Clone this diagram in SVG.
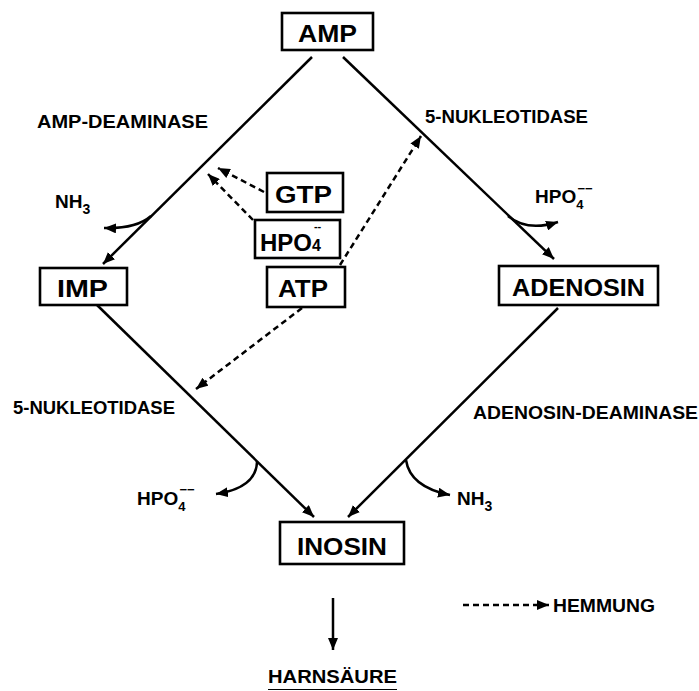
<svg xmlns="http://www.w3.org/2000/svg" width="699" height="691" viewBox="0 0 699 691">
<style>
.box{fill:#fff;stroke:#000;stroke-width:2.6}
.bt{font-family:"Liberation Sans",Arial,sans-serif;font-weight:bold;font-size:24px;fill:#000}
.lb{font-family:"Liberation Sans",Arial,sans-serif;font-weight:bold;font-size:19px;fill:#000}
.ln{fill:none;stroke:#000;stroke-width:2.5;marker-end:url(#ah)}
.ds{fill:none;stroke:#000;stroke-width:2.5;stroke-dasharray:6 4;marker-end:url(#ah)}
</style>
<defs>
<marker id="ah" markerUnits="userSpaceOnUse" markerWidth="13" markerHeight="10" refX="12" refY="5" orient="auto">
<path d="M0,0 L12,5 L0,10 z" fill="#000"/>
</marker>
</defs>
<rect width="699" height="691" fill="#fff"/>
<g id="connectors">
<path class="ln" d="M312,57 L103,264"/>
<path class="ln" d="M343,57 L554,259"/>
<path class="ln" d="M97,305 L314,517"/>
<path class="ln" d="M558,308 L348,517"/>
<path class="ln" d="M333,598 L333,650"/>
<path class="ln" d="M151,216 Q136,229 104,228"/>
<path class="ln" d="M508,216 Q527,232 558,222"/>
<path class="ln" d="M257,462 Q256,488 216,494"/>
<path class="ln" d="M406,460 Q410,487 450,495"/>
<path class="ds" d="M264,192 L218,168"/>
<path class="ds" d="M253,220 L208,174"/>
<path class="ds" d="M340,265 L421,136"/>
<path class="ds" d="M302,308 L196,389"/>
<path class="ds" d="M463,605 L549,605"/>
</g>
<g id="AMP"><rect class="box" x="282" y="13" width="91" height="37"/><text class="bt" x="298" y="42" textLength="59" lengthAdjust="spacingAndGlyphs">AMP</text></g>
<g id="GTP"><rect class="box" x="267" y="173" width="76" height="39"/><text class="bt" x="275" y="203" textLength="57" lengthAdjust="spacingAndGlyphs">GTP</text></g>
<g id="HPO4box"><rect class="box" x="255" y="220" width="85" height="38"/><text class="bt" x="260" y="251" font-size="23">HPO<tspan font-size="16">4</tspan><tspan font-size="11" dx="-7" dy="-21">--</tspan></text></g>
<g id="IMP"><rect class="box" x="40" y="268" width="87" height="37"/><text class="bt" x="57" y="297" textLength="51" lengthAdjust="spacingAndGlyphs">IMP</text></g>
<g id="ATP"><rect class="box" x="267" y="267" width="78" height="40"/><text class="bt" x="278" y="297" textLength="50" lengthAdjust="spacingAndGlyphs">ATP</text></g>
<g id="ADENOSIN"><rect class="box" x="499" y="266" width="159" height="39"/><text class="bt" x="512" y="296" textLength="133" lengthAdjust="spacingAndGlyphs">ADENOSIN</text></g>
<g id="INOSIN"><rect class="box" x="280" y="522" width="124" height="42"/><text class="bt" x="297" y="555" textLength="90" lengthAdjust="spacingAndGlyphs">INOSIN</text></g>
<g id="HARNSAEURE"><text class="lb" x="268" y="683" textLength="129" lengthAdjust="spacingAndGlyphs">HARNSÄURE</text><line x1="268" y1="689.5" x2="397" y2="689.5" stroke="#000" stroke-width="1"/></g>
<g id="labels">
<text class="lb" x="37" y="128" textLength="171" lengthAdjust="spacingAndGlyphs">AMP-DEAMINASE</text>
<text class="lb" x="425" y="123" textLength="163" lengthAdjust="spacingAndGlyphs">5-NUKLEOTIDASE</text>
<text class="lb" x="13" y="414" textLength="162" lengthAdjust="spacingAndGlyphs">5-NUKLEOTIDASE</text>
<text class="lb" x="473" y="419" textLength="225" lengthAdjust="spacingAndGlyphs">ADENOSIN-DEAMINASE</text>
<text class="lb" x="553" y="612" textLength="102" lengthAdjust="spacingAndGlyphs">HEMMUNG</text>
<text class="lb" x="55" y="208">NH<tspan font-size="14" dy="6">3</tspan></text>
<text class="lb" x="457" y="505">NH<tspan font-size="14" dy="6">3</tspan></text>
<text class="lb" x="535" y="203" font-size="17">HPO<tspan font-size="13" dy="6">4</tspan><tspan font-size="13" dx="-6" dy="-16">−−</tspan></text>
<text class="lb" x="137" y="505" font-size="18">HPO<tspan font-size="13" dy="6">4</tspan><tspan font-size="13" dx="-6" dy="-17">−−</tspan></text>
</g>
</svg>
